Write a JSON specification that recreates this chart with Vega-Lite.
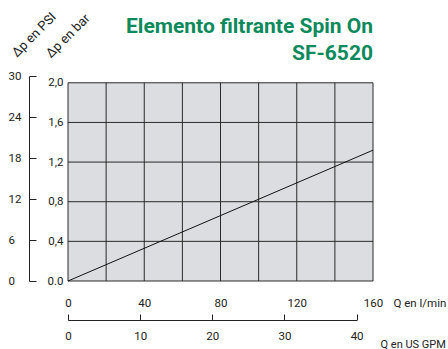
{
  "$schema": "https://vega.github.io/schema/vega-lite/v6.json",
  "width": 305,
  "height": 205,
  "autosize": {"type": "none"},
  "padding": {"left": 68, "top": 76, "right": 75, "bottom": 68},
  "background": "white",
  "config": {
    "view": {"stroke": null},
    "font": "Roboto",
    "axis": {"grid": false, "labelFont": "Roboto", "titleFont": "Roboto", "labelColor": "#222", "titleColor": "#222", "labelFontSize": 11.5, "titleFontSize": 11.5, "titleFontWeight": "normal", "domainColor": "#222", "tickColor": "#222"}
  },
  "title": {
    "text": ["Elemento filtrante Spin On", "SF-6520"],
    "anchor": "end",
    "frame": "group",
    "font": "Roboto",
    "fontSize": 21,
    "fontWeight": "bold",
    "color": "#0d8a5c",
    "lineHeight": 27,
    "offset": -53
  },
  "datasets": {
    "panel": [{"q": 0, "q2": 160, "bar": 0, "bar2": 2.0}],
    "hgrid": [{"bar": 0}, {"bar": 0.4}, {"bar": 0.8}, {"bar": 1.2}, {"bar": 1.6}, {"bar": 2.0}],
    "vgrid": [{"q": 0}, {"q": 20}, {"q": 40}, {"q": 60}, {"q": 80}, {"q": 100}, {"q": 120}, {"q": 140}, {"q": 160}],
    "curve": [{"q": 0, "bar": 0}, {"q": 160, "bar": 1.32}],
    "psi": [{"psi": 0}, {"psi": 6}, {"psi": 12}, {"psi": 18}, {"psi": 24}, {"psi": 30}],
    "gpm": [{"gpm": 0}, {"gpm": 10}, {"gpm": 20}, {"gpm": 30}, {"gpm": 40}],
    "barTitle": [{"q": 0, "psi": 30, "label": "Δp en bar"}],
    "psiTitle": [{"q": 0, "psi": 30, "label": "Δp en PSI"}]
  },
  "resolve": {"scale": {"x": "independent", "y": "independent"}, "axis": {"x": "independent", "y": "independent"}},
  "layer": [
    {
      "data": {"name": "panel"},
      "mark": {"type": "rect", "fill": "#dcdde0"},
      "encoding": {
        "x": {"field": "q", "type": "quantitative", "scale": {"domain": [0, 160], "nice": false},
          "axis": {"orient": "bottom", "values": [0, 40, 80, 120, 160], "ticks": false, "domain": false, "labelPadding": 16, "labelFlush": false,
            "title": "Q en l/min", "titleX": 325, "titleY": 16, "titleAlign": "left", "titleBaseline": "top", "titleAngle": 0}},
        "x2": {"field": "q2"},
        "y": {"field": "bar", "type": "quantitative", "scale": {"domain": [0, 2.0685], "nice": false},
          "axis": {"orient": "left", "values": [0, 0.4, 0.8, 1.2, 1.6, 2.0], "ticks": false, "domain": false, "labelPadding": 5, "labelFlush": false,
            "labelExpr": "datum.value == 0 ? '0.0' : replace(format(datum.value, '.1f'), '.', ',')",
            "title": null}},
        "y2": {"field": "bar2"}
      }
    },
    {
      "data": {"name": "hgrid"},
      "mark": {"type": "rule", "color": "#2a2a2a", "strokeWidth": 1},
      "encoding": {
        "y": {"field": "bar", "type": "quantitative", "scale": {"domain": [0, 2.0685], "nice": false}, "axis": null},
        "x": {"datum": 0, "type": "quantitative", "scale": {"domain": [0, 160], "nice": false}, "axis": null},
        "x2": {"datum": 160}
      }
    },
    {
      "data": {"name": "vgrid"},
      "mark": {"type": "rule", "color": "#2a2a2a", "strokeWidth": 1},
      "encoding": {
        "x": {"field": "q", "type": "quantitative", "scale": {"domain": [0, 160], "nice": false}, "axis": null},
        "y": {"datum": 0, "type": "quantitative", "scale": {"domain": [0, 2.0685], "nice": false}, "axis": null},
        "y2": {"datum": 2.0}
      }
    },
    {
      "data": {"name": "curve"},
      "mark": {"type": "line", "color": "#111", "strokeWidth": 1},
      "encoding": {
        "x": {"field": "q", "type": "quantitative", "scale": {"domain": [0, 160], "nice": false}, "axis": null},
        "y": {"field": "bar", "type": "quantitative", "scale": {"domain": [0, 2.0685], "nice": false}, "axis": null}
      }
    },
    {
      "data": {"name": "psi"},
      "mark": {"type": "tick", "opacity": 0},
      "encoding": {
        "y": {"field": "psi", "type": "quantitative", "scale": {"domain": [0, 30], "nice": false},
          "axis": {"orient": "left", "offset": 39, "values": [0, 6, 12, 18, 24, 30], "tickSize": -7, "labelAlign": "left", "labelPadding": 28, "labelFlush": false, "title": null}}
      }
    },
    {
      "data": {"name": "barTitle"},
      "mark": {"type": "text", "angle": 315, "align": "center", "baseline": "middle", "fontSize": 13, "color": "#222", "font": "Roboto", "dx": 28.3, "dy": -28.3},
      "encoding": {
        "x": {"field": "q", "type": "quantitative", "scale": {"domain": [0, 160], "nice": false}, "axis": null},
        "y": {"field": "psi", "type": "quantitative", "scale": {"domain": [0, 30], "nice": false}, "axis": null},
        "text": {"field": "label"}
      }
    },
    {
      "data": {"name": "psiTitle"},
      "mark": {"type": "text", "angle": 315, "align": "center", "baseline": "middle", "fontSize": 13, "color": "#222", "font": "Roboto", "dx": 5, "dy": -53},
      "encoding": {
        "x": {"field": "q", "type": "quantitative", "scale": {"domain": [0, 160], "nice": false}, "axis": null},
        "y": {"field": "psi", "type": "quantitative", "scale": {"domain": [0, 30], "nice": false}, "axis": null},
        "text": {"field": "label"}
      }
    },
    {
      "data": {"name": "gpm"},
      "mark": {"type": "tick", "opacity": 0},
      "encoding": {
        "x": {"field": "gpm", "type": "quantitative", "scale": {"domain": [0, 40], "nice": false, "range": [0, 288.6]},
          "axis": {"orient": "bottom", "offset": 39, "values": [0, 10, 20, 30, 40], "tickSize": -6, "labelPadding": 16, "labelFlush": false, "labelFontSize": 11.5,
            "title": "Q en US GPM", "titleX": 312, "titleY": 18, "titleAlign": "left", "titleBaseline": "top", "titleFontSize": 11}}
      }
    }
  ]
}
